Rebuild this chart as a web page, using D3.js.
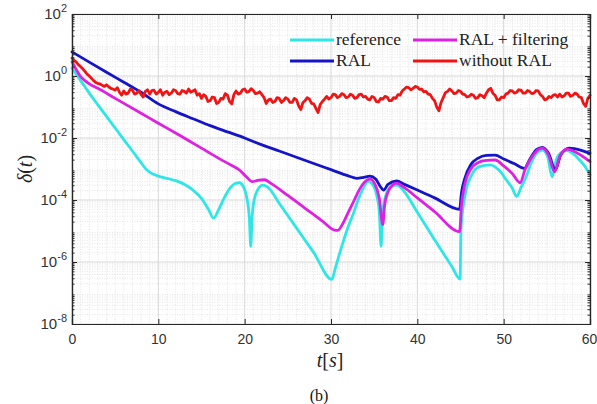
<!DOCTYPE html>
<html>
<head>
<meta charset="utf-8">
<script src="https://cdn.jsdelivr.net/npm/d3@7"></script>
<style>
html,body{margin:0;padding:0;background:#fff;}
svg{display:block;}
</style>
</head>
<body>
<svg id="chart" width="597" height="404"></svg>
<script>
// ---------------- data ----------------
const xTicks = [0, 10, 20, 30, 40, 50, 60];
const yTickExps = [2, 0, -2, -4, -6, -8];
const legendLabels = ["reference", "RAL + filtering", "RAL", "without RAL"];

// reference (cyan)
const refT = [0,0.5,1,2,3,4,5,6,7,8,8.5,9,9.5,10,11,12,13,14,15,15.8,16.4,17,17.6,18.3,18.9,19.4,19.9,20.3,20.55,20.7,20.85,21.1,21.5,22.1,22.8,24,26,28,30.1,30.5,31,32,32.6,33.2,33.7,34.3,34.8,35.3,35.6,35.8,35.95,36.3,36.9,37.6,38.4,40,42,44,44.95,45.05,45.5,46.3,47.2,48.4,49.5,50.3,51,51.5,52,52.6,53.2,53.8,54.5,55.1,55.6,56.1,56.6,57.3,58,58.8,59.5,60];
const refV = [1.8,1.12,0.71,0.28,0.117,0.05,0.021,8.9e-3,3.8e-3,1.6e-3,1.05e-3,7.9e-4,6.6e-4,5.9e-4,5.0e-4,4.2e-4,3.2e-4,2.1e-4,1.12e-4,5.0e-5,2.6e-5,5.0e-5,1.12e-4,2.4e-4,3.4e-4,3.6e-4,2.5e-4,1.0e-4,2.5e-5,3.2e-6,2.5e-5,1.0e-4,2.1e-4,3.0e-4,2.4e-4,7.9e-5,1.26e-5,2.0e-6,2.75e-7,6.3e-7,1.9e-6,1.4e-5,3.7e-5,1.12e-4,2.3e-4,4.0e-4,3.2e-4,1.4e-4,4.0e-5,3.2e-6,3.2e-5,1.26e-4,2.6e-4,3.0e-4,2.0e-4,4.0e-5,5.2e-6,7.1e-7,2.8e-7,1.07e-5,1.3e-4,6.5e-4,1.2e-3,1.35e-3,8.9e-4,4.5e-4,2.4e-4,1.3e-4,2.5e-4,5.6e-4,1.6e-3,3.2e-3,4.1e-3,2.5e-3,5.6e-4,2.0e-3,3.3e-3,3.9e-3,3.2e-3,1.95e-3,1.12e-3,6.5e-4];

// RAL + filtering (magenta)
const filtT = [0,0.5,1,1.5,2,3,5,8,10,12,15,17,18.5,19.4,20.2,20.9,21.5,22.3,23,25,27,29,30.4,30.8,31.3,32,32.7,33.3,33.9,34.5,35.1,35.6,36.0,36.2,36.6,37.1,37.6,38.5,40,42,44.9,45.1,45.5,46.2,47,48,49,50,51,51.9,52.5,53.3,54,54.5,55.2,55.9,56.5,57.3,58.5,60];
const filtV = [2.9,1.6,0.95,0.71,0.56,0.40,0.19,0.063,0.030,0.0145,4.7e-3,2.2e-3,1.3e-3,9.3e-4,5.6e-4,3.9e-4,4.3e-4,4.5e-4,3.5e-4,1.4e-4,5.4e-5,2.1e-5,1.07e-5,1.05e-5,1.6e-5,4.0e-5,1.0e-4,2.2e-4,3.8e-4,4.7e-4,3.2e-4,1.12e-4,1.6e-5,6.3e-5,1.8e-4,3.0e-4,3.5e-4,2.5e-4,1.17e-4,4.2e-5,9.5e-6,6.3e-5,3.2e-4,1.0e-3,1.6e-3,1.9e-3,1.95e-3,1.26e-3,7.1e-4,3.6e-4,1.0e-3,2.5e-3,4.2e-3,4.7e-3,2.8e-3,8.1e-4,2.5e-3,4.4e-3,3.3e-3,1.74e-3];

// RAL (blue)
const ralT = [0,2,4,6,8,10,12,14,16,18,20,22,24,26,28,30,32,33,33.8,34.5,35.2,35.8,36.1,36.6,37.6,38.5,40,42,44.9,45.1,45.5,46.2,47,48,49,50,51.2,52.4,53,53.8,54.5,55.2,56,56.6,57.6,59,60];
const ralV = [6.0,2.8,1.32,0.63,0.30,0.126,0.071,0.042,0.025,0.0158,0.010,6.0e-3,3.8e-3,2.4e-3,1.5e-3,9.5e-4,6.0e-4,5.0e-4,5.4e-4,5.9e-4,4.7e-4,2.5e-4,2.1e-4,3.2e-4,4.1e-4,3.2e-4,2.1e-4,1.17e-4,5.0e-5,1.6e-4,5.0e-4,1.4e-3,2.2e-3,2.75e-3,2.8e-3,2.1e-3,1.5e-3,1.05e-3,2.0e-3,4.2e-3,5.0e-3,3.2e-3,9.3e-4,2.8e-3,4.7e-3,4.0e-3,3.2e-3];

// without RAL (red), sampled every 0.25 s
const noRalT = d3.range(0, 60.001, 0.25);
const noRalV = [
3.8,3.2,2.8,2.3,2.0,1.7,1.4,1.15,1.0,0.85,0.71,0.62,0.58,0.55,0.50,0.46,0.52,0.45,0.40,0.38,
0.35,0.42,0.30,0.24,0.33,0.26,0.28,0.38,0.35,0.26,0.28,0.34,0.25,0.21,0.32,0.36,0.26,0.34,0.35,0.26,
0.30,0.36,0.24,0.30,0.32,0.25,0.28,0.36,0.34,0.27,0.26,0.34,0.32,0.28,0.38,0.30,0.33,0.36,0.24,0.27,
0.19,0.25,0.22,0.15,0.16,0.21,0.20,0.13,0.14,0.19,0.18,0.27,0.24,0.15,0.126,0.25,0.33,0.26,0.28,0.36,
0.38,0.30,0.32,0.39,0.34,0.27,0.28,0.31,0.25,0.20,0.13,0.17,0.18,0.14,0.15,0.20,0.19,0.14,0.16,0.20,
0.18,0.14,0.14,0.19,0.17,0.11,0.083,0.14,0.16,0.20,0.18,0.13,0.126,0.09,0.066,0.12,0.15,0.18,0.22,0.18,
0.20,0.26,0.25,0.20,0.22,0.27,0.25,0.20,0.21,0.26,0.24,0.19,0.20,0.25,0.26,0.21,0.22,0.18,0.17,0.22,
0.20,0.15,0.145,0.19,0.18,0.22,0.21,0.16,0.16,0.20,0.19,0.25,0.24,0.33,0.38,0.44,0.42,0.36,0.40,0.46,
0.44,0.37,0.38,0.31,0.32,0.26,0.25,0.19,0.16,0.10,0.076,0.14,0.20,0.29,0.32,0.38,0.33,0.27,0.28,0.34,
0.32,0.26,0.25,0.21,0.22,0.26,0.24,0.19,0.20,0.25,0.23,0.20,0.28,0.36,0.40,0.28,0.24,0.17,0.17,0.21,
0.20,0.26,0.28,0.34,0.33,0.28,0.30,0.36,0.35,0.28,0.28,0.34,0.32,0.27,0.28,0.34,0.33,0.25,0.22,0.17,
0.18,0.22,0.20,0.24,0.25,0.21,0.26,0.21,0.23,0.28,0.28,0.22,0.24,0.28,0.26,0.21,0.20,0.13,0.105,0.19,
0.24];

const colors = {"reference": "#2EE6E6", "RAL + filtering": "#E020E0", "RAL": "#1414C8", "without RAL": "#F01414"};
const seriesList = [
  {name: "reference", t: refT, v: refV, curve: d3.curveMonotoneX},
  {name: "RAL", t: ralT, v: ralV, curve: d3.curveMonotoneX},
  {name: "RAL + filtering", t: filtT, v: filtV, curve: d3.curveMonotoneX},
  {name: "without RAL", t: noRalT, v: noRalV, curve: d3.curveLinear}
];

// ---------------- layout ----------------
const svg = d3.select("#chart");
const L = 72, R = 590, T = 14, B = 324;
const x = d3.scaleLinear().domain([0, 60]).range([L, R]);
const y = d3.scaleLog().domain([1e-8, 1e2]).range([B, T]);
const axisColor = "#262626";

// grid: minor
const gGrid = svg.append("g");
const minorX = d3.range(0, 60.001, 1).filter(v => v % 10 !== 0);
gGrid.selectAll("line.mx").data(minorX).enter().append("line")
  .attr("x1", d => x(d)).attr("x2", d => x(d)).attr("y1", T).attr("y2", B)
  .attr("stroke", "#e0e0e0").attr("stroke-width", 0.8).attr("stroke-dasharray", "1,1.5");
const minorY = [];
for (let e = -8; e < 2; e++) for (let k = 2; k <= 9; k++) minorY.push(k * Math.pow(10, e));
gGrid.selectAll("line.my").data(minorY).enter().append("line")
  .attr("x1", L).attr("x2", R).attr("y1", d => y(d)).attr("y2", d => y(d))
  .attr("stroke", "#e0e0e0").attr("stroke-width", 0.8).attr("stroke-dasharray", "1,1.5");
// grid: major
gGrid.selectAll("line.Mx").data(xTicks).enter().append("line")
  .attr("x1", d => x(d)).attr("x2", d => x(d)).attr("y1", T).attr("y2", B)
  .attr("stroke", "#d8d8d8").attr("stroke-width", 1);
gGrid.selectAll("line.My").data(yTickExps).enter().append("line")
  .attr("x1", L).attr("x2", R).attr("y1", d => y(Math.pow(10, d))).attr("y2", d => y(Math.pow(10, d)))
  .attr("stroke", "#d8d8d8").attr("stroke-width", 1);

// ---------------- lines ----------------
const gLines = svg.append("g");
seriesList.forEach(s => {
  const pts = s.t.map((t, i) => [t, s.v[i]]);
  const line = d3.line().x(d => x(d[0])).y(d => y(d[1])).curve(s.curve);
  gLines.append("path").attr("d", line(pts))
    .attr("fill", "none").attr("stroke", colors[s.name]).attr("stroke-width", 2.8)
    .attr("stroke-linejoin", "round").attr("stroke-linecap", "round");
});

// ---------------- axes ----------------
const gAx = svg.append("g");
const xAxisB = d3.axisBottom(x).tickValues(xTicks).tickSize(-5).tickPadding(10).tickFormat(d3.format("d"));
const xAxisT = d3.axisTop(x).tickValues(xTicks).tickSize(-5).tickFormat("");
const yAxisL = d3.axisLeft(y).tickValues(minorY).tickSize(-2.5).tickFormat("");
const yAxisR = d3.axisRight(y).tickValues(minorY).tickSize(-2.5).tickFormat("");
const yAxisLM = d3.axisLeft(y).tickValues(yTickExps.map(e => Math.pow(10, e))).tickSize(-5).tickFormat("");
const yAxisRM = d3.axisRight(y).tickValues(yTickExps.map(e => Math.pow(10, e))).tickSize(-5).tickFormat("");

function styleAxis(g) {
  g.selectAll("path.domain").attr("stroke", axisColor).attr("stroke-width", 1.2);
  g.selectAll(".tick line").attr("stroke", axisColor);
  g.selectAll(".tick text").attr("fill", "#333").style("font-family", "'Liberation Sans', Arial, sans-serif").style("font-size", "14px");
}
const gxb = gAx.append("g").attr("transform", `translate(0,${B})`).call(xAxisB); styleAxis(gxb);
const gxt = gAx.append("g").attr("transform", `translate(0,${T})`).call(xAxisT); styleAxis(gxt);
const gyl = gAx.append("g").attr("transform", `translate(${L},0)`).call(yAxisL); styleAxis(gyl);
const gyr = gAx.append("g").attr("transform", `translate(${R},0)`).call(yAxisR); styleAxis(gyr);
const gylm = gAx.append("g").attr("transform", `translate(${L},0)`).call(yAxisLM); styleAxis(gylm);
const gyrm = gAx.append("g").attr("transform", `translate(${R},0)`).call(yAxisRM); styleAxis(gyrm);
gxb.selectAll(".tick text").filter(d => d === 60).attr("dx", -1);

// y tick labels with superscripts
const yLab = gAx.append("g");
yTickExps.forEach(e => {
  const t = yLab.append("text").attr("x", 67).attr("y", y(Math.pow(10, e)) + 5)
    .attr("text-anchor", "end").attr("fill", "#333")
    .style("font-family", "'Liberation Sans', Arial, sans-serif").style("font-size", "15px");
  t.append("tspan").text("10");
  t.append("tspan").attr("dy", -7).style("font-size", "11px").text(String(e));
});

// axis labels
const serif = "'Liberation Serif', 'Times New Roman', serif";
const xl = svg.append("text").attr("x", 330).attr("y", 367).attr("text-anchor", "middle")
  .style("font-family", serif).style("font-size", "20px").attr("fill", "#222");
xl.append("tspan").style("font-style", "italic").text("t");
xl.append("tspan").text("[");
xl.append("tspan").style("font-style", "italic").text("s");
xl.append("tspan").text("]");

const yl = svg.append("text").attr("transform", `translate(32,${(T + B) / 2}) rotate(-90)`)
  .attr("text-anchor", "middle")
  .style("font-family", serif).style("font-size", "20px").attr("fill", "#222");
yl.append("tspan").style("font-style", "italic").text("δ");
yl.append("tspan").text("(");
yl.append("tspan").style("font-style", "italic").text("t");
yl.append("tspan").text(")");

svg.append("text").attr("x", 319).attr("y", 401).attr("text-anchor", "middle")
  .style("font-family", serif).style("font-size", "16px").attr("fill", "#111").text("(b)");

// ---------------- legend ----------------
const legendPos = [
  {x: 290, y: 40}, {x: 413, y: 40}, {x: 290, y: 61}, {x: 413, y: 61}
];
const gLeg = svg.append("g");
legendLabels.forEach((lab, i) => {
  const p = legendPos[i];
  gLeg.append("line").attr("x1", p.x).attr("x2", p.x + 44).attr("y1", p.y).attr("y2", p.y)
    .attr("stroke", colors[lab]).attr("stroke-width", 2.8);
  gLeg.append("text").attr("x", p.x + 46).attr("y", p.y + 5)
    .style("font-family", serif).style("font-size", "17.5px").attr("fill", "#222").text(lab);
});
</script>
</body>
</html>
